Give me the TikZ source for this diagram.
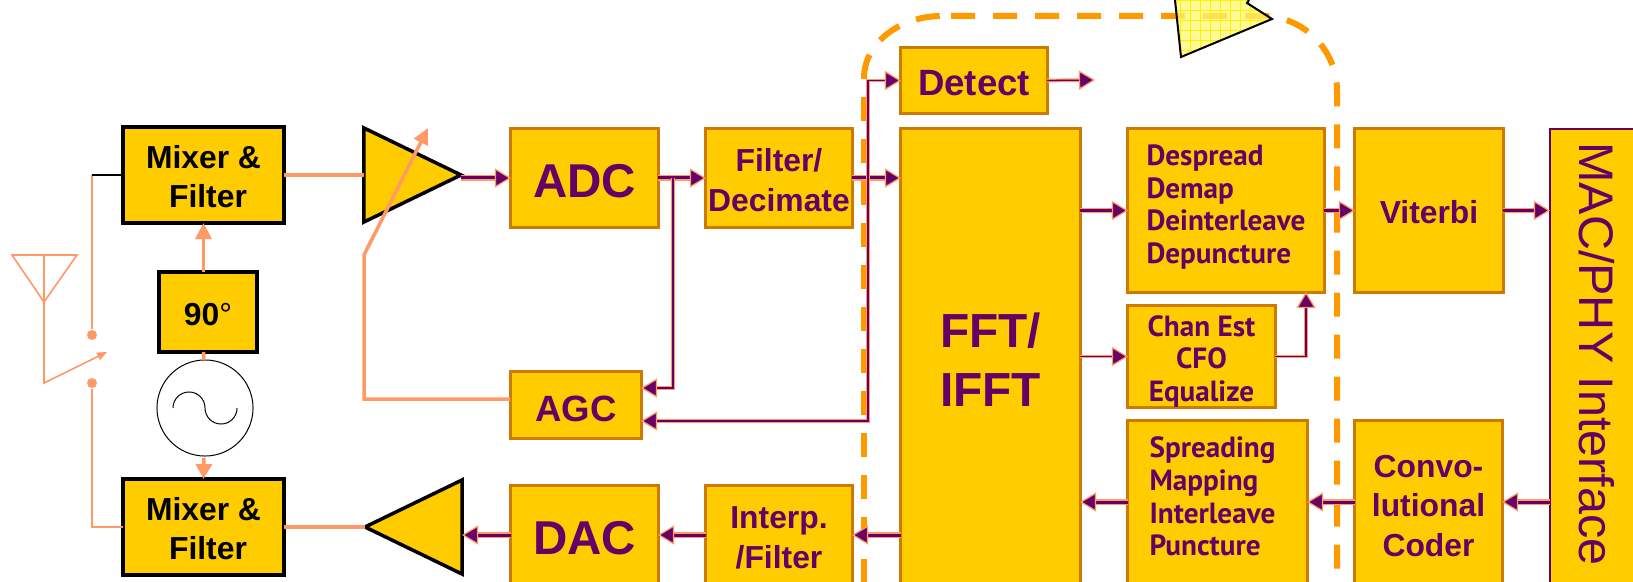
\documentclass[tikz,border=0pt]{standalone}
\usepackage{fontspec}
\setmainfont{Liberation Sans}
\newfontfamily\blockfont{PT Sans}
\usepackage{tikz}
\usetikzlibrary{arrows.meta}
\usetikzlibrary{shapes.geometric}
\definecolor{boxfill}{HTML}{FFCC00}
\definecolor{boxedge}{HTML}{CC7A00}
\definecolor{sigpurple}{HTML}{660066}
\definecolor{sigsalmon}{HTML}{FF9966}
\definecolor{busorange}{HTML}{FF9900}
\newcommand{\toprule}[1]{\rule{0pt}{#1}}
\tikzset{
	topline/.style={execute at begin node={\rule{0pt}{#1}}},
	endline/.style={execute at end node={\rule[-#1]{0pt}{#1}}},
	blockbox/.style={rectangle,draw=boxedge,fill=boxfill,line width=.03cm,outer sep=0,inner sep=0,text=sigpurple,align=center,font=\bfseries\fontsize{9.05}{11.2}\selectfont},
	rfbox/.style={blockbox,draw=black,line width=.035cm,text=black},
	listbox/.style={blockbox,align=left,font=\blockfont\bfseries\fontsize{8.3}{9.3}\selectfont},
	ampshape/.style={isosceles triangle,isosceles triangle stretches,draw=black,fill=boxfill,line width=.035cm,inner sep=0,outer sep=0,minimum width=.94cm,minimum height=.97cm},
	sigline/.style={draw=sigsalmon,double=sigpurple,line width=.012cm,double distance=.03cm,-{Triangle[length=.16cm,width=.19cm,color=sigsalmon,fill=sigpurple,line width=.012cm]}},
	thinsig/.style={sigline,line width=.012cm,double distance=.013cm},
	rfline/.style={draw=sigsalmon,line width=.035cm},
	antline/.style={draw=sigsalmon,line width=.016cm},
	busline/.style={busorange,line width=.06cm,dash pattern=on .24cm off .18cm}
}
\begin{document}
\begin{tikzpicture}
	[x=.01cm,y=-.01cm]
	\clip (0,0) rectangle (1633,582);
	% the dashed boundary goes behind everything
	\draw[busline] (864,583) -- (864,78);
	\draw[busline] (864,78) arc[start angle=180,end angle=90,x radius=.78cm,y radius=.62cm];
	\draw[busline,rounded corners=.75cm] (951,16) -- (1337,16) -- (1337,612);
	
	\begin{scope}
	\clip (1175,0) -- (1181,57) -- (1272,19) -- (1247,3) -- (1249,0) -- cycle;
	\fill[yellow!55,opacity=.75] (1170,0) rectangle (1280,60);
	\draw[yellow,line width=.008cm,step=.1cm] (1170,0) grid (1280,60);
	\end{scope}
	\draw[black,line width=.02cm] (1175,0) -- (1181,57) -- (1272,19) -- (1247,3) -- (1249,0);
	
	\node[rfbox,minimum width=1.61cm,minimum height=.96cm] (mixerRx) at (203.5,175) {\toprule{.26cm}Mixer \&\\\hspace*{.09cm}Filter};
	\node[rfbox,minimum width=1.61cm,minimum height=.96cm] (mixerTx) at (203.5,527) {\toprule{.26cm}Mixer \&\\\hspace*{.09cm}Filter};
	\node[rfbox,topline=.27cm,minimum width=.98cm,minimum height=.8cm] (phase) at (208,312) {90{\mdseries°}};
	\node[circle,draw=black,line width=.01cm,minimum size=.96cm,inner sep=0] (osc) at (205,408) {};
	\node[ampshape,anchor=apex] (ampRx) at (461,175) {};
	\node[ampshape,shape border rotate=180,anchor=apex] (ampTx) at (365,527) {};
	
	\node[blockbox,topline=.4cm,minimum width=1.47cm,minimum height=.98cm,font=\bfseries\fontsize{13.5}{16}\selectfont] (adc) at (584.5,178) {ADC};
	\node[blockbox,minimum width=1.46cm,minimum height=.98cm] (filter) at (779,178) {\toprule{.275cm}Filter/\\Decimate};
	\node[blockbox,topline=.325cm,minimum width=1.3cm,minimum height=.66cm,font=\bfseries\fontsize{10.4}{12}\selectfont] (agc) at (576,405) {AGC};
	\node[blockbox,topline=.4cm,minimum width=1.47cm,minimum height=.98cm,font=\bfseries\fontsize{13.5}{16}\selectfont] (dac) at (584.5,535) {DAC};
	\node[blockbox,minimum width=1.46cm,minimum height=.98cm] (interp) at (779,535) {\toprule{.275cm}Interp.\\/Filter};
	\node[blockbox,minimum width=1.79cm,minimum height=4.62cm,font=\bfseries\fontsize{13.6}{16.8}\selectfont] (fft) at (990.5,360) {FFT/\\IFFT};
	\node[blockbox,topline=.305cm,minimum width=1.46cm,minimum height=.65cm,font=\bfseries\fontsize{10.4}{12}\selectfont] (detect) at (974,80.5) {Detect};
	\node[listbox,endline=.13cm,minimum width=1.96cm,minimum height=1.63cm] (despread) at (1226,210.5) {Despread\\Demap\\Deinterleave\\Depuncture};
	\node[blockbox,topline=.27cm,minimum width=1.48cm,minimum height=1.63cm] (viterbi) at (1429,210.5) {Viterbi};
	\node[listbox,align=center,minimum width=1.47cm,minimum height=.99cm] (chan) at (1201.5,356.5) {\toprule{.305cm}Chan Est\\CFO\\Equalize};
	\node[listbox,endline=.115cm,minimum width=1.79cm,minimum height=1.62cm] (spread) at (1217.5,502) {Spreading\hspace*{.1cm}\\Mapping\\Interleave\\Puncture};
	\node[blockbox,minimum width=1.47cm,minimum height=1.62cm] (convo) at (1428.5,502) {\toprule{.3cm}Convo-\\lutional\\Coder};
	\node[blockbox,draw=sigpurple,line width=.02cm,minimum width=.9cm,minimum height=4.62cm] (mac) at (1595,360) {};
	\node[text=sigpurple,rotate=-90,font=\fontsize{13.8}{16}\selectfont] (macText) at ([xshift=.02cm,yshift=.06cm]mac.center) {MAC/PHY Interface};
	
	\coordinate (ampRxOut) at (ampRx.apex |- adc.west);
	\coordinate (fftIn) at (fft.west |- filter.east);
	\coordinate (adcTap) at (673,178);
	\coordinate (agcUp) at ([yshift=.17cm]agc.east);
	\coordinate (agcLow) at ([yshift=-.16cm]agc.east);
	\coordinate (detectTap) at (868,178);
	\coordinate (detectEnd) at (1095,80);
	\coordinate (fftD) at (fft.east |- despread.west);
	\coordinate (fftC) at (fft.east |- chan.west);
	\coordinate (fftS) at (fft.east |- spread.west);
	\coordinate (fftI) at (fft.west |- interp.east);
	\coordinate (ampTxIn) at (ampTx.lower side |- dac.west);
	\coordinate (macV) at (mac.west |- viterbi.east);
	\coordinate (macC) at (mac.west |- convo.east);
	\coordinate (despreadIn) at ([xshift=.8cm]despread.south);
	
	% signal path
	\foreach \from/\to in 
	{ampRxOut/adc.west, adc.east/filter.west, filter.east/fftIn, fftD/despread.west, despread.east/viterbi.west,
	viterbi.east/macV, macC/convo.east, convo.west/spread.east, spread.west/fftS, fftI/interp.east, interp.west/dac.east, dac.west/ampTxIn}
	\draw[sigline] (\from) -- (\to);
	
	\draw[thinsig] (adcTap) |- (agcUp);
	\draw[thinsig] (detectTap) |- (agcLow);
	\draw[thinsig] (detectTap) |- (detect.west);
	\draw[thinsig] (detect.east) -- (detectEnd);
	\draw[thinsig] (fftC) -- (chan.west);
	\draw[thinsig] (chan.east) -| (despreadIn);
	
	% radio side
	\coordinate (phaseUp) at (phase.north -| mixerRx.south);
	\coordinate (phaseLow) at (phase.south -| mixerRx.south);
	\coordinate (oscOut) at (204,458);
	\coordinate (oscTop) at (204,360);
	\coordinate (agcTail) at (510,399);
	\coordinate (gainLow) at (364,399);
	\coordinate (gainBend) at (364,255);
	\coordinate (gainTip) at (428,128);
	\draw[rfline] (mixerRx.east) -- (ampRx.lower side);
	\draw[rfline] (mixerTx.east) -- (ampTx.apex);
	\draw[rfline,-{Triangle[length=.16cm,width=.16cm]}] (phaseUp) -- (mixerRx.south);
	\draw[rfline] (phaseLow) -- (oscTop);
	\draw[rfline,-{Triangle[length=.15cm,width=.16cm]}] (oscOut) -- (mixerTx.north);
	\draw[rfline,-{Triangle[length=.16cm,width=.15cm]}] (agcTail) -- (gainLow) -- (gainBend) -- (gainTip);
	
	\draw[black,line width=.01cm] (173,408) arc[start angle=180,end angle=0,radius=.16cm] arc[start angle=180,end angle=360,radius=.16cm];
	
	\node[circle,fill=sigsalmon,minimum size=.1cm,inner sep=0] (dotUp) at (92,335) {};
	\node[circle,fill=sigsalmon,minimum size=.1cm,inner sep=0] (dotLow) at (92,383) {};
	\coordinate (rxCorner) at (92,175);
	\coordinate (txCorner) at (92,527);
	\draw[antline] (dotUp) -- (rxCorner);
	\draw[black,line width=.016cm] (rxCorner) -- (mixerRx.west);
	\draw[antline] (dotLow) |- (mixerTx.west);
	
	\coordinate (antFeed) at (44,255);
	\coordinate (antFoot) at (44,383);
	\coordinate (antTip) at (107,352);
	\draw[antline] (12,255) -- (77,255) -- (44,302) -- cycle;
	\draw[antline,-{Triangle[length=.1cm,width=.08cm]}] (antFeed) -- (antFoot) -- (antTip);
\end{tikzpicture}
\end{document}
